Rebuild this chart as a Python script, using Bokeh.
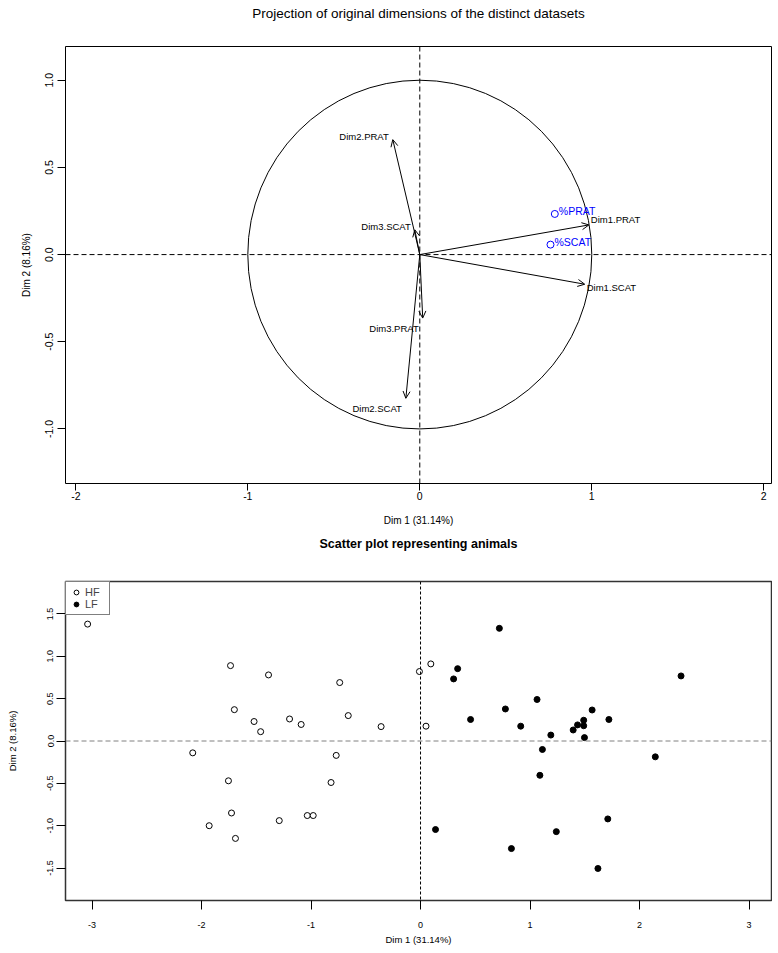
from bokeh.plotting import figure
from bokeh.models import (ColumnDataSource, Arrow, OpenHead, Span, FixedTicker, LinearAxis,
                          PrintfTickFormatter, Range1d, Legend, LegendItem)
from bokeh.layouts import column
from bokeh.embed import file_html
from bokeh.resources import INLINE
from bokeh.core.properties import value

# ---------------- data ----------------
var_names = ["Dim1.PRAT", "Dim2.PRAT", "Dim3.PRAT", "Dim1.SCAT", "Dim2.SCAT", "Dim3.SCAT"]
var_x = [0.983, -0.157, 0.017, 0.959, -0.081, -0.029]
var_y = [0.170, 0.659, -0.364, -0.170, -0.824, 0.142]

sup_names = ["%PRAT", "%SCAT"]
sup_x = [0.785, 0.76]
sup_y = [0.233, 0.057]

hf_x = [-3.04, -1.735, -1.388, -0.738, -1.70, -1.52, -1.46, -1.196, -1.09, -0.66, -0.36,
        -2.08, -0.77, -1.754, -0.817, -1.726, -1.034, -0.98, -1.29, -1.93, -1.69,
        -0.01, 0.094, 0.05]
hf_y = [1.38, 0.89, 0.78, 0.69, 0.37, 0.23, 0.11, 0.26, 0.195, 0.30, 0.17,
        -0.14, -0.17, -0.47, -0.49, -0.85, -0.88, -0.88, -0.94, -1.00, -1.15,
        0.82, 0.91, 0.175]

lf_x = [0.72, 0.339, 0.302, 2.379, 1.064, 0.775, 1.567, 0.457, 1.72, 1.49, 0.915, 1.434,
        1.49, 1.394, 1.19, 1.497, 1.113, 2.144, 1.09, 1.71, 0.137, 1.24, 0.83, 1.62]
lf_y = [1.33, 0.854, 0.733, 0.768, 0.49, 0.378, 0.366, 0.254, 0.254, 0.245, 0.175, 0.19,
        0.18, 0.13, 0.07, 0.04, -0.10, -0.187, -0.405, -0.92, -1.045, -1.07, -1.27, -1.505]

top_x_ticks = [-2, -1, 0, 1, 2]
top_y_ticks = [-1.0, -0.5, 0.0, 0.5, 1.0]
bot_x_ticks = [-3, -2, -1, 0, 1, 2, 3]
bot_y_ticks = [-1.5, -1.0, -0.5, 0.0, 0.5, 1.0, 1.5]

x_label = "Dim 1 (31.14%)"
y_label = "Dim 2 (8.16%)"
title_top = "Projection of original dimensions of the distinct datasets"
title_bot = "Scatter plot representing animals"

FONT = "Liberation Sans"


def style_axes(p, tick_size, lab_size, xt_out, xstand, xlab_stand, yt_out, ystand, ylab_stand):
    p.xgrid.visible = False
    p.ygrid.visible = False
    for ax in p.xaxis:
        ax.axis_line_color = None
        ax.major_tick_out = xt_out
        ax.major_tick_in = 0
        ax.minor_tick_line_color = None
        ax.major_tick_line_color = "black"
        ax.major_label_standoff = xstand
        ax.axis_label_standoff = xlab_stand
        ax.major_label_text_font = FONT
        ax.major_label_text_font_size = tick_size
        ax.major_label_text_color = "black"
        ax.axis_label_text_font = FONT
        ax.axis_label_text_font_size = lab_size
        ax.axis_label_text_font_style = "normal"
        ax.axis_label_text_color = "black"
    for ax in p.yaxis:
        ax.axis_line_color = None
        ax.major_tick_out = yt_out
        ax.major_tick_in = 0
        ax.minor_tick_line_color = None
        ax.major_tick_line_color = "black"
        ax.major_label_standoff = ystand
        ax.axis_label_standoff = ylab_stand
        ax.major_label_orientation = "vertical"
        ax.major_label_text_font = FONT
        ax.major_label_text_font_size = tick_size
        ax.major_label_text_color = "black"
        ax.axis_label_text_font = FONT
        ax.axis_label_text_font_size = lab_size
        ax.axis_label_text_font_style = "normal"
        ax.axis_label_text_color = "black"


def spacer_axis(h):
    # invisible axis that only reserves vertical space between title and frame
    return LinearAxis(ticker=FixedTicker(ticks=[0]), major_label_overrides={0: " "},
                      axis_line_color=None, major_tick_out=h, major_tick_in=0,
                      major_tick_line_color=None, minor_tick_line_color=None,
                      minor_tick_out=0, major_label_standoff=0,
                      major_label_text_font_size="1px")


# ---------------- top: variables factor map ----------------
p1 = figure(width=772, height=531, output_backend="svg", toolbar_location=None,
            x_range=Range1d(-2.06, 2.045), y_range=Range1d(-1.3125, 1.193),
            min_border_left=65, min_border_right=1, min_border_top=5, min_border_bottom=48,
            title=title_top, x_axis_label=x_label, y_axis_label=y_label)
p1.title.align = "center"
p1.title.text_font = FONT
p1.title.text_font_size = "13.5px"
p1.title.text_font_style = "normal"
p1.title.text_color = "black"
p1.title.standoff = 6
p1.outline_line_color = "black"
p1.outline_line_width = 1
p1.xaxis.ticker = FixedTicker(ticks=top_x_ticks)
p1.yaxis.ticker = FixedTicker(ticks=top_y_ticks)
p1.xaxis.formatter = PrintfTickFormatter(format="%d")
p1.yaxis.formatter = PrintfTickFormatter(format="%.1f")
style_axes(p1, "10.5px", "10px", 7, 1, 12, 8, 4, 11)
p1.add_layout(spacer_axis(19), "above")

p1.add_layout(Span(location=0, dimension="height", line_color="black", line_width=1, line_dash="5 3"))
p1.add_layout(Span(location=0, dimension="width", line_color="black", line_width=1, line_dash="5 3"))

p1.ellipse(x=[0], y=[0], width=[2], height=[2], fill_color=None, line_color="black", line_width=1)

arrow_src = ColumnDataSource(dict(x=var_x, y=var_y))
p1.add_layout(Arrow(end=OpenHead(size=7, line_width=1, line_color="black"),
                    x_start=0, y_start=0, x_end="x", y_end="y", source=arrow_src,
                    line_color="black", line_width=1))

for side in ("left", "right"):
    names, xs, ys, xo, yo = [], [], [], [], []
    for n, x, y in zip(var_names, var_x, var_y):
        right_side = x > 0.1
        if right_side != (side == "left"):
            continue
        names.append(n); xs.append(x); ys.append(y)
        if right_side:
            xo.append(2); yo.append(-5 if y > 0 else 3)
        else:
            xo.append(-4); yo.append(-3 if y > 0 else 10)
    src = ColumnDataSource(dict(x=xs, y=ys, t=names, xo=xo, yo=yo))
    p1.text(x="x", y="y", text="t", source=src, x_offset="xo", y_offset="yo",
            text_align=side, text_baseline="middle", text_font=value(FONT),
            text_font_size="9.5px", text_color="black")

p1.scatter(x=sup_x, y=sup_y, marker="circle", size=7, fill_color=None,
           line_color="#0000ff", line_width=1)
sup_src = ColumnDataSource(dict(x=sup_x, y=sup_y, t=sup_names))
p1.text(x="x", y="y", text="t", source=sup_src, x_offset=4, y_offset=-3,
        text_align="left", text_baseline="middle", text_font=value(FONT),
        text_font_size="10.5px", text_color="#0000ff")

# ---------------- bottom: individuals ----------------
p2 = figure(width=772, height=416, output_backend="svg", toolbar_location=None,
            x_range=Range1d(-3.242, 3.205), y_range=Range1d(-1.883, 1.883),
            min_border_left=65, min_border_right=1, min_border_top=5, min_border_bottom=44,
            title=title_bot, x_axis_label=x_label, y_axis_label=y_label)
p2.title.align = "center"
p2.title.text_font = FONT
p2.title.text_font_size = "12.5px"
p2.title.text_font_style = "bold"
p2.title.text_color = "black"
p2.title.standoff = 6
p2.outline_line_color = "#333333"
p2.outline_line_width = 1.5
p2.xaxis.ticker = FixedTicker(ticks=bot_x_ticks)
p2.yaxis.ticker = FixedTicker(ticks=bot_y_ticks)
p2.xaxis.formatter = PrintfTickFormatter(format="%d")
p2.yaxis.formatter = PrintfTickFormatter(format="%.1f")
style_axes(p2, "9px", "9.5px", 9, 12, 3, 9, 3, 27)
p2.add_layout(spacer_axis(24), "above")

p2.add_layout(Span(location=0, dimension="height", line_color="black", line_width=1, line_dash="3 2"))
p2.add_layout(Span(location=0, dimension="width", line_color="#808080", line_width=1, line_dash="5 3"))

r_hf = p2.scatter(x=hf_x, y=hf_y, marker="circle", size=6, fill_color="white",
                  line_color="black", line_width=1)
r_lf = p2.scatter(x=lf_x, y=lf_y, marker="circle", size=6, fill_color="black",
                  line_color="black", line_width=1)

legend = Legend(items=[LegendItem(label="HF", renderers=[r_hf]),
                       LegendItem(label="LF", renderers=[r_lf])],
                location="top_left", margin=0, padding=4, spacing=0,
                glyph_width=12, glyph_height=12, label_standoff=3, label_height=12,
                label_text_font=FONT, label_text_font_size="11px",
                border_line_color="black", border_line_width=1,
                background_fill_color="white", background_fill_alpha=1)
p2.add_layout(legend)

layout = column(p1, p2, spacing=0)
open("out.html", "w").write(file_html(layout, INLINE))
